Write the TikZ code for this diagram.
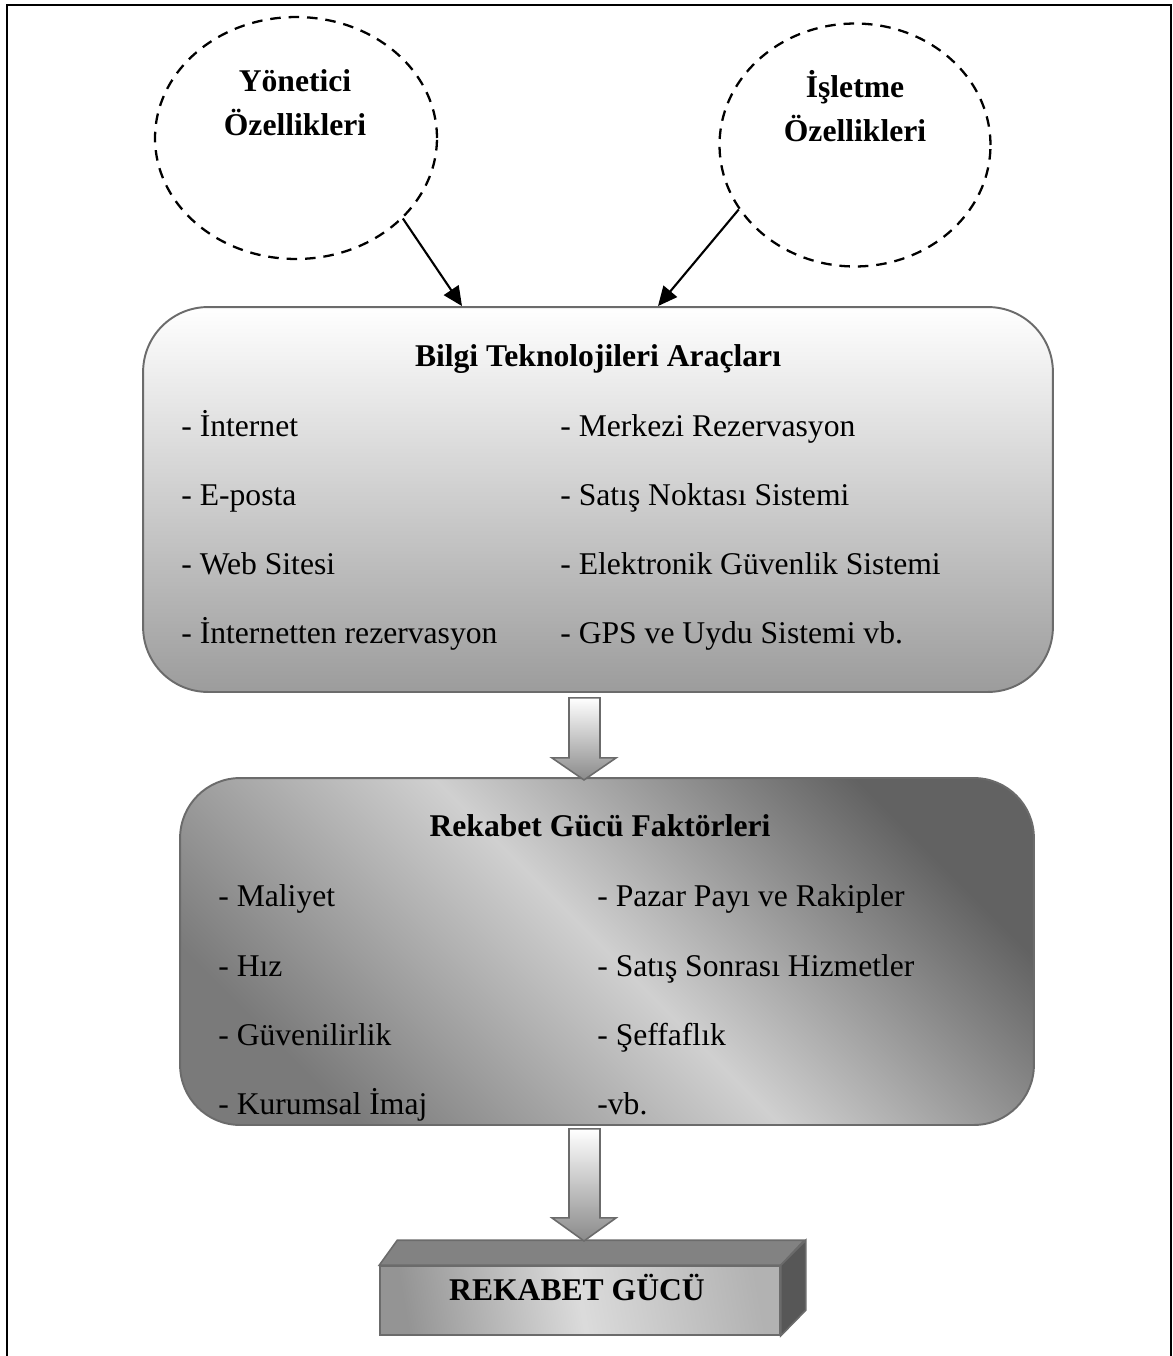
\documentclass[tikz,border=0pt]{standalone}
\usepackage{fontspec}
\setmainfont{Liberation Serif}
\usetikzlibrary{shapes.geometric,arrows.meta,calc}

\definecolor{boxline}{HTML}{6B6B6B}
\definecolor{toolsbot}{HTML}{9C9C9C}
\definecolor{qualsdark}{HTML}{626262}
\definecolor{qualsmid}{HTML}{D0D0D0}
\definecolor{qualslow}{HTML}{7A7A7A}
\definecolor{arrowbot}{HTML}{8A8A8A}
\definecolor{topface}{HTML}{828282}
\definecolor{sideface}{HTML}{575757}

\begin{document}
\begin{tikzpicture}[x=0.02cm,y=-0.02cm,font=\fontsize{18}{24.5}\selectfont]

    \tikzset{
      oval/.style={
        draw,
        ellipse,
        line width=1.3pt,
        dash pattern=on 6pt off 4.5pt,
        inner sep=0pt,
      },
      ovaltext/.style={font=\fontsize{18}{24.5}\selectfont\bfseries,align=center,anchor=base},
      bigbox/.style={
        draw=boxline,
        line width=1.1pt,
        rectangle,
        inner sep=0pt,
      },
      item/.style={anchor=base west,inner sep=0pt},
      title/.style={anchor=base,inner sep=0pt,font=\fontsize{18}{24.5}\selectfont\bfseries},
      blockarrow/.style={draw=boxline,line width=0.9pt,top color=white,bottom color=arrowbot},
      link/.style={line width=1.2pt,-{Triangle[length=11pt,width=10pt]}},
    }
    \useasboundingbox (0,0) rectangle (1173,1356);
    \draw[line width=1.2pt] (7,1356) -- (7,5) -- (1171,5) -- (1171,1356);

    % ovals on top
    \node[oval,minimum width=5.64cm,minimum height=4.84cm] (yon) at (296,138) {};
    \node[ovaltext] (yontext) at (295,135) {Yönetici\\Özellikleri};
    \node[oval,minimum width=5.42cm,minimum height=4.86cm] (isl) at (855,145) {};
    \node[ovaltext] (isltext) at (855,141) {İşletme\\Özellikleri};

    % information technology tools
    \node[bigbox,rounded corners=1.3cm,minimum width=18.2cm,minimum height=7.7cm,
      top color=white,bottom color=toolsbot] (tools) at (598,499.5) {};
    \node[title] (toolstitle) at (598,366) {Bilgi Teknolojileri Araçları};
    \node[item] (t1) at (181,436) {- İnternet};
    \node[item] (t2) at (181,505) {- E-posta};
    \node[item] (t3) at (181,574) {- Web Sitesi};
    \node[item] (t4) at (181,643) {- İnternetten rezervasyon};
    \node[item] (t5) at (560,436) {- Merkezi Rezervasyon};
    \node[item] (t6) at (560,505) {- Satış Noktası Sistemi};
    \node[item] (t7) at (560,574) {- Elektronik Güvenlik Sistemi};
    \node[item] (t8) at (560,643) {- GPS ve Uydu Sistemi vb.};

    \draw[link] (yon.-37) -- ($(tools.north)+(-136,0)$);
    \draw[link] (isl.-151) -- ($(tools.north)+(60,0)$);

    % competitiveness factors
    \node[bigbox,rounded corners=1.2cm,minimum width=17.08cm,minimum height=6.94cm,
      left color=qualslow,right color=qualsdark,middle color=qualsmid,shading angle=135] (quals) at (607,951.5) {};
    \node[title] (qualstitle) at (600,836) {Rekabet Gücü Faktörleri};
    \node[item] (q1) at (218,906) {- Maliyet};
    \node[item] (q2) at (218,976) {- Hız};
    \node[item] (q3) at (218,1045) {- Güvenilirlik};
    \node[item] (q4) at (218,1114) {- Kurumsal İmaj};
    \node[item] (q5) at (597,906) {- Pazar Payı ve Rakipler};
    \node[item] (q6) at (597,976) {- Satış Sonrası Hizmetler};
    \node[item] (q7) at (597,1045) {- Şeffaflık};
    \node[item] (q8) at (597,1114) {-vb.};

    \draw[blockarrow] ($(tools.south)+(-29,5)$) -- ++(0,60) -- ++(-17,0) -- ++(32,22)
      -- ++(32,-22) -- ++(-16,0) -- ++(0,-60) -- cycle;

    % result box
    \node[bigbox,line width=0.9pt,minimum width=8cm,minimum height=1.38cm,
      left color=black!42,right color=black!30,middle color=black!14,shading angle=100] (gucu) at (580,1300.5) {};
    \draw[draw=boxline,line width=0.9pt,fill=topface] (gucu.north west) -- ++(18,-25) -- ++(407,0)
      -- (gucu.north east) -- cycle;
    \draw[draw=boxline,line width=0.9pt,fill=sideface] (gucu.north east) -- ++(25,-25) -- ++(0,70)
      -- (gucu.south east) -- cycle;
    \node[title] (gucutext) at (577,1300) {REKABET GÜCÜ};

    \draw[blockarrow] ($(quals.south)+(-38,3)$) -- ++(0,89) -- ++(-17,0) -- ++(32,23)
      -- ++(32,-23) -- ++(-16,0) -- ++(0,-89) -- cycle;

\end{tikzpicture}
\end{document}
